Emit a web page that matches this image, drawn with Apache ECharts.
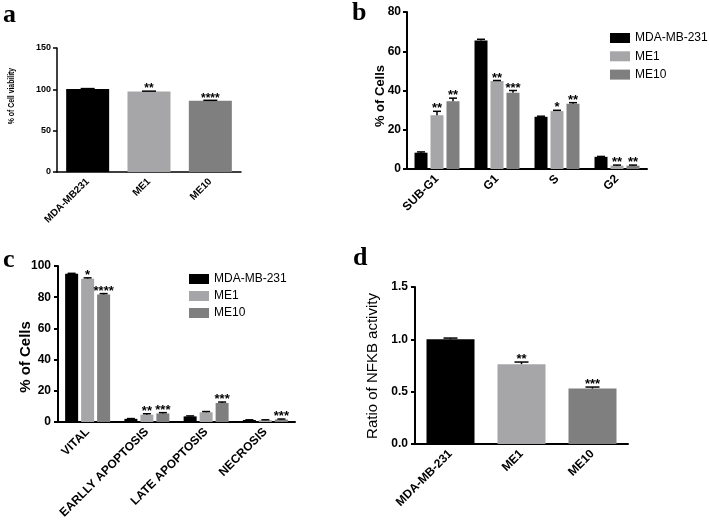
<!DOCTYPE html>
<html><head><meta charset="utf-8">
<script src="https://cdn.jsdelivr.net/npm/echarts@6/dist/echarts.min.js"></script>
<style>html,body{margin:0;padding:0;background:#fff}#c{width:709px;height:523px}</style>
</head><body><div id="c"></div>
<script>
// ---------- Panel a: cell viability ----------
const catsA = ['MDA-MB231', 'ME1', 'ME10'];
const valsA = [100.5, 97.3, 86.3];
const errA = [0.4, 0.5, 0.4];
const starsA = ['', '**', '****'];
const ticksA = [0, 50, 100, 150];

// ---------- Panel b: cell cycle ----------
const catsB = ['SUB-G1', 'G1', 'S', 'G2'];
const seriesNames = ['MDA-MB-231', 'ME1', 'ME10'];
const mdaB = [8.3, 65.5, 26.6, 6.2];
const me1B = [27.4, 44.8, 29.5, 1.7];
const me10B = [34.5, 38.8, 33.2, 1.7];
const errMdaB = [0.4, 0.6, 0.3, 0.2];
const errMe1B = [2.0, 0.3, 0.4, 0.3];
const errMe10B = [1.6, 1.2, 0.6, 0.3];
const starsMdaB = ['', '', '', ''];
const starsMe1B = ['**', '**', '*', '**'];
const starsMe10B = ['**', '***', '**', '**'];
const ticksB = [0, 20, 40, 60, 80];

// ---------- Panel c: apoptosis ----------
const catsC = ['VITAL', 'EARLLY APOPTOSIS', 'LATE APOPTOSIS', 'NECROSIS'];
const mdaC = [95.0, 2.0, 3.6, 1.3];
const me1C = [91.9, 4.7, 6.2, 1.2];
const me10C = [81.8, 5.5, 12.2, 1.6];
const errMdaC = [0.3, 0.2, 0.3, 0.1];
const errMe1C = [0.5, 0.6, 0.5, 0.2];
const errMe10C = [0.5, 0.5, 0.6, 0.3];
const starsMdaC = ['', '', '', ''];
const starsMe1C = ['*', '**', '', ''];
const starsMe10C = ['****', '***', '***', '***'];
const ticksC = [0, 20, 40, 60, 80, 100];

// ---------- Panel d: NFKB activity ----------
const catsD = ['MDA-MB-231', 'ME1', 'ME10'];
const valsD = [1.0, 0.763, 0.53];
const errD = [0.012, 0.02, 0.014];
const starsD = ['', '**', '***'];
const ticksD = [0, 0.5, 1.0, 1.5];

const colors = ['#000000', '#a6a6a8', '#7f7f7f'];
const FONT = '"Liberation Sans", Arial, sans-serif';

function errSeries(xi, vals, errs, stars, offset, capW, starSize) {
  return {
    type: 'custom', name: 'err' + xi + '_' + offset, xAxisIndex: xi, yAxisIndex: xi, z: 5,
    data: vals.map((v, i) => [i, v, errs[i]]),
    renderItem: (params, api) => {
      const i = api.value(0), v = api.value(1), e = api.value(2);
      const p0 = api.coord([i, v]);
      const p1 = api.coord([i, v + e]);
      const cx = p0[0] + offset;
      const children = [
        { type: 'line', shape: { x1: cx, y1: p0[1], x2: cx, y2: p1[1] }, style: { stroke: '#000', lineWidth: 1.5 } },
        { type: 'line', shape: { x1: cx - capW / 2, y1: p1[1], x2: cx + capW / 2, y2: p1[1] }, style: { stroke: '#000', lineWidth: 1.5 } }
      ];
      const s = stars[params.dataIndex];
      if (s) children.push({ type: 'text', style: { text: s, x: cx, y: p1[1] + 4, align: 'center', verticalAlign: 'bottom', font: 'bold ' + starSize + 'px ' + FONT, fill: '#000' } });
      return { type: 'group', children };
    }
  };
}

function xAx(gi, cats, fs, lw) {
  return {
    type: 'category', gridIndex: gi, data: cats,
    axisLine: { lineStyle: { color: '#000', width: lw } },
    axisTick: { alignWithLabel: true, length: 4, lineStyle: { color: '#000', width: lw } },
    axisLabel: { rotate: 45, interval: 0, margin: 8, color: '#000', fontWeight: 'bold', fontSize: fs, fontFamily: FONT }
  };
}
function yAx(gi, ticks, fs, lw, margin, fmt) {
  return {
    type: 'value', gridIndex: gi, min: ticks[0], max: ticks[ticks.length - 1], interval: ticks[1] - ticks[0],
    splitLine: { show: false },
    axisLine: { show: true, lineStyle: { color: '#000', width: lw } },
    axisTick: { show: true, length: 4, lineStyle: { color: '#000', width: lw } },
    axisLabel: { margin: margin, color: '#000', fontWeight: 'bold', fontSize: fs, fontFamily: FONT, formatter: fmt }
  };
}
function rotText(txt, x, y, size, weight, sx) {
  return { type: 'text', x: x, y: y, rotation: Math.PI / 2, scaleX: sx || 1,
    style: { text: txt, x: 0, y: 0, align: 'center', verticalAlign: 'middle', font: weight + ' ' + size + 'px ' + FONT, fill: '#000' } };
}
function letter(t, x, y) {
  return { type: 'text', x: x, y: y, style: { text: t, align: 'left', verticalAlign: 'middle', font: 'bold 26px "Liberation Serif", serif', fill: '#000' } };
}

const chart = echarts.init(document.getElementById('c'), null, { renderer: 'canvas' });
const groupBars = (xi, names, arrs) => arrs.map((arr, k) => ({
  type: 'bar', name: names[k], xAxisIndex: xi, yAxisIndex: xi, data: arr,
  barWidth: 13, barGap: '23%', itemStyle: { color: colors[k] }
}));

chart.setOption({
  animation: false,
  backgroundColor: '#fff',
  grid: [
    { left: 57, top: 48, width: 184, height: 124 },
    { left: 407, top: 12, width: 240, height: 157 },
    { left: 58, top: 266, width: 237, height: 156 },
    { left: 415, top: 287, width: 213, height: 157 }
  ],
  xAxis: [xAx(0, catsA, 10, 1.5), xAx(1, catsB, 12, 2), xAx(2, catsC, 12, 2), xAx(3, catsD, 12, 2)],
  yAxis: [
    yAx(0, ticksA, 9, 1.5, 6),
    yAx(1, ticksB, 12, 2, 6),
    yAx(2, ticksC, 12, 2, 7),
    yAx(3, ticksD, 12, 2, 7, v => v.toFixed(1))
  ],
  legend: [
    { data: seriesNames, orient: 'vertical', left: 605, top: 27, itemWidth: 20, itemHeight: 10, itemGap: 6.3, icon: 'rect',
      textStyle: { fontSize: 12, lineHeight: 12, fontFamily: FONT, color: '#000' } },
    { data: seriesNames, orient: 'vertical', left: 184, top: 268, itemWidth: 20, itemHeight: 10, itemGap: 5, icon: 'rect',
      textStyle: { fontSize: 12, lineHeight: 12, fontFamily: FONT, color: '#000' } }
  ],
  series: [
    { type: 'bar', name: 'viability', xAxisIndex: 0, yAxisIndex: 0, barWidth: 43,
      data: valsA.map((v, i) => ({ value: v, itemStyle: { color: colors[i] } })) },
    errSeries(0, valsA, errA, starsA, 0, 14, 12),
    ...groupBars(1, seriesNames, [mdaB, me1B, me10B]),
    errSeries(1, mdaB, errMdaB, starsMdaB, -16, 8, 13),
    errSeries(1, me1B, errMe1B, starsMe1B, 0, 8, 13),
    errSeries(1, me10B, errMe10B, starsMe10B, 16, 8, 13),
    ...groupBars(2, seriesNames, [mdaC, me1C, me10C]),
    errSeries(2, mdaC, errMdaC, starsMdaC, -16, 8, 13),
    errSeries(2, me1C, errMe1C, starsMe1C, 0, 8, 13),
    errSeries(2, me10C, errMe10C, starsMe10C, 16, 8, 13),
    { type: 'bar', name: 'nfkb', xAxisIndex: 3, yAxisIndex: 3, barWidth: 48,
      data: valsD.map((v, i) => ({ value: v, itemStyle: { color: colors[i] } })) },
    errSeries(3, valsD, errD, starsD, 0, 14, 13)
  ],
  graphic: [
    letter('a', 3, 15), letter('b', 352, 13), letter('c', 3, 260), letter('d', 353, 258),
    rotText('% of Cell viability', 11, 96, 9.5, 'bold', 0.72),
    rotText('% of Cells', 380, 96, 13, 'bold'),
    rotText('% of Cells', 26, 357, 15, 'bold'),
    rotText('Ratio of NFKB activity', 372.5, 366, 15, 'normal')
  ]
});
</script></body></html>
